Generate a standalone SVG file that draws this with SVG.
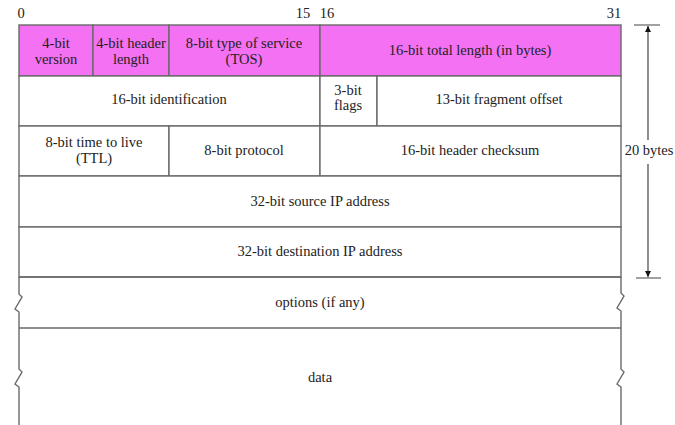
<svg xmlns="http://www.w3.org/2000/svg" width="675" height="425" viewBox="0 0 675 425">
<defs>
<style>
text{font-family:"Liberation Serif","Times New Roman",serif;font-size:14.5px;fill:#222;text-anchor:middle}
.c{fill:#fff;stroke:#6a6a6a;stroke-width:1.4}
.m{fill:#f371f2;stroke:#6a6a6a;stroke-width:1.4}
.l{stroke:#6a6a6a;stroke-width:1.4;fill:none}
.a{stroke:#444;stroke-width:1.2;fill:none}
</style>
<marker id="ah" viewBox="0 0 10 10" refX="10" refY="5" markerWidth="6" markerHeight="14" markerUnits="userSpaceOnUse" orient="auto"><path d="M0,0 L10,5 L0,10 z" fill="#111"/></marker>
</defs>
<rect width="675" height="425" fill="#fff"/>
<g id="bit-numbers">
<text x="21" y="18">0</text>
<text x="303" y="18">15</text>
<text x="327" y="18">16</text>
<text x="614" y="18">31</text>
</g>
<g id="version"><rect class="m" x="19" y="25" width="74" height="51"/><text x="56" y="48">4-bit</text><text x="56" y="64">version</text></g>
<g id="header-length"><rect class="m" x="93" y="25" width="76" height="51"/><text x="131" y="48">4-bit header</text><text x="131" y="64">length</text></g>
<g id="tos"><rect class="m" x="169" y="25" width="151" height="51"/><text x="244" y="48">8-bit type of service</text><text x="244" y="64">(TOS)</text></g>
<g id="total-length"><rect class="m" x="320" y="25" width="301" height="51"/><text x="470" y="55">16-bit total length (in bytes)</text></g>
<g id="identification"><rect class="c" x="19" y="76" width="301" height="50"/><text x="169" y="104">16-bit identification</text></g>
<g id="flags"><rect class="c" x="320" y="76" width="57" height="50"/><text x="348" y="95">3-bit</text><text x="348" y="110">flags</text></g>
<g id="fragment-offset"><rect class="c" x="377" y="76" width="244" height="50"/><text x="499" y="104">13-bit fragment offset</text></g>
<g id="ttl"><rect class="c" x="19" y="126" width="150" height="50"/><text x="94" y="147">8-bit time to live</text><text x="94" y="163">(TTL)</text></g>
<g id="protocol"><rect class="c" x="169" y="126" width="151" height="50"/><text x="244" y="155">8-bit protocol</text></g>
<g id="checksum"><rect class="c" x="320" y="126" width="301" height="50"/><text x="470" y="155">16-bit header checksum</text></g>
<g id="source"><rect class="c" x="19" y="176" width="602" height="51"/><text x="320" y="206">32-bit source IP address</text></g>
<g id="destination"><rect class="c" x="19" y="227" width="602" height="50"/><text x="320" y="256">32-bit destination IP address</text></g>
<g id="options">
<path class="l" d="M19,277 H621 M19,328 H621"/>
<path class="l" d="M19,277 V294 L22,297 L15,309 L19,312 V328"/>
<path class="l" d="M621,277 V293 L624,296 L617,308 L621,311 V328"/>
<text x="320" y="307">options (if any)</text>
</g>
<g id="data">
<path class="l" d="M19,328 V369 L22,372 L15,384 L19,387 V425"/>
<path class="l" d="M621,328 V369 L624,372 L617,384 L621,387 V425"/>
<text x="320" y="382">data</text>
</g>
<g id="connectors">
<path class="a" d="M634,25 H660 M636,278 H661"/>
<path class="a" d="M648,140 V26" marker-end="url(#ah)"/>
<path class="a" d="M648,164 V277" marker-end="url(#ah)"/>
</g>
<g id="size-label"><text x="649" y="155">20 bytes</text></g>
</svg>
